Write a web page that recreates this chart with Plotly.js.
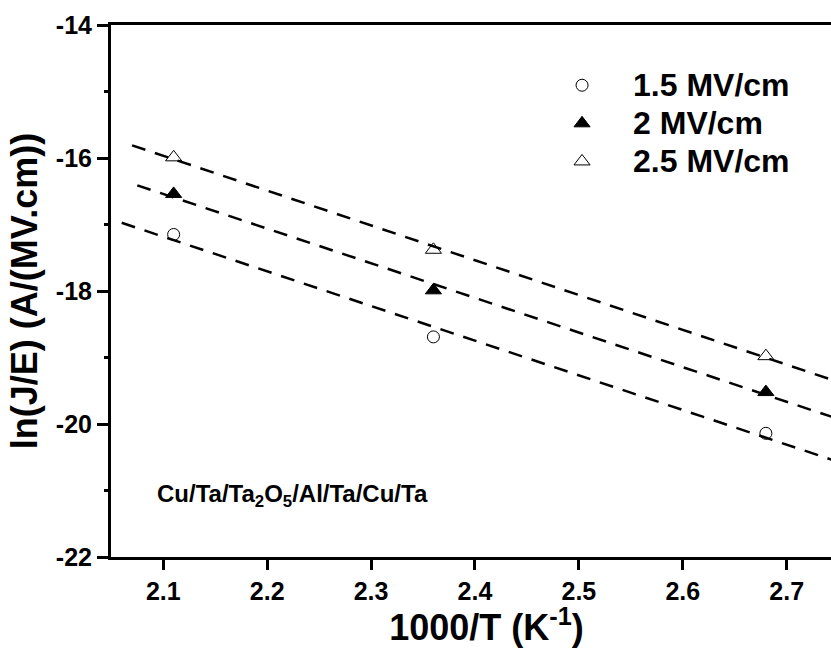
<!DOCTYPE html>
<html>
<head>
<meta charset="utf-8">
<script src="https://cdn.plot.ly/plotly-3.0.1.min.js"></script>
<style>html,body{margin:0;padding:0;background:#fff;overflow:hidden;width:831px;height:648px;}#chart{width:862px;height:648px;}</style>
</head>
<body>
<div id="chart"></div>
<script>
// Data
const invT = [2.11, 2.36, 2.68];
const y15 = [-17.15, -18.69, -20.14];
const y20 = [-16.54, -17.99, -19.52];
const y25 = [-15.99, -17.38, -18.98];
const seriesNames = ['1.5 MV/cm', '2 MV/cm', '2.5 MV/cm'];
const fitStart = [2.06, 2.075, 2.07];
const fitEnd = 2.78;
const xTicks = [2.1, 2.2, 2.3, 2.4, 2.5, 2.6, 2.7];
const yTicks = [-22, -20, -18, -16, -14];
const yMinorTicks = [-21, -19, -17, -15];

function fit(xs, ys) {
  const n = xs.length;
  const mx = xs.reduce((a, b) => a + b, 0) / n;
  const my = ys.reduce((a, b) => a + b, 0) / n;
  let sxx = 0, sxy = 0;
  for (let i = 0; i < n; i++) { sxx += (xs[i] - mx) ** 2; sxy += (xs[i] - mx) * (ys[i] - my); }
  const b = sxy / sxx;
  return x => my + b * (x - mx);
}

const FONT = '"Liberation Sans", Arial, sans-serif';
const ys = [y15, y20, y25];
const symbols = ['circle-open', 'triangle-up', 'triangle-up-open'];
const sizes = [12, 14, 14];
const traces = [];
ys.forEach((yy, i) => {
  const f = fit(invT, yy);
  traces.push({
    x: [fitStart[i], fitEnd], y: [f(fitStart[i]), f(fitEnd)],
    mode: 'lines', line: {color: '#000', width: 2.5, dash: '14px,10px'},
    showlegend: false, hoverinfo: 'skip'
  });
});
ys.forEach((yy, i) => {
  traces.push({
    x: invT, y: yy, name: '<span style="font-size:32px"><b>' + seriesNames[i] + '</b></span>', mode: 'markers',
    marker: {symbol: symbols[i], size: sizes[i], color: '#000', line: {color: '#000', width: 1}},
    cliponaxis: false
  });
});

// minor ticks on the y axis, drawn as short pixel-sized stubs at the axis
const minorTickShapes = yMinorTicks.map(v => ({
  type: 'line', xref: 'paper', yref: 'y', xsizemode: 'pixel', xanchor: 0,
  x0: -7, x1: 0, y0: v, y1: v, line: {color: '#000', width: 3}, layer: 'above'
}));

const layout = {
  width: 862, height: 648,
  margin: {l: 111, r: 0, t: 25, b: 91},
  paper_bgcolor: '#fff', plot_bgcolor: '#fff',
  font: {family: FONT, color: '#000'},
  showlegend: true,
  legend: {x: 0.5593, y: 0.932, xanchor: 'left', yanchor: 'top', bgcolor: 'rgba(0,0,0,0)',
           font: {family: FONT, size: 27, color: '#000'}, itemwidth: 92, tracegroupgap: 0},
  xaxis: {
    range: [2.0497, 2.7725], tickmode: 'array', tickvals: xTicks, ticktext: xTicks.map(v => v.toFixed(1)),
    showgrid: false, zeroline: false, showline: true, linecolor: '#000', linewidth: 3, mirror: true,
    ticks: 'outside', ticklen: 10, tickwidth: 3, tickcolor: '#000',
    tickfont: {family: FONT, size: 25, weight: 'bold', color: '#000'},
    title: {text: '<b>1000/T (K<sup>-1</sup>)</b>', font: {family: FONT, size: 36, color: '#000'}, standoff: 6}
  },
  yaxis: {
    range: [-22, -14], tickmode: 'array', tickvals: yTicks, ticktext: yTicks.map(v => String(v)),
    showgrid: false, zeroline: false, showline: true, linecolor: '#000', linewidth: 3, mirror: false,
    ticks: 'outside', ticklen: 11, tickwidth: 3, tickcolor: '#000',
    tickfont: {family: FONT, size: 25, weight: 'bold', color: '#000'},
    title: {text: '<b>ln(J/E) (A/(MV.cm))</b>', font: {family: FONT, size: 36, color: '#000'}, standoff: 8}
  },
  shapes: minorTickShapes,
  annotations: [{
    text: '<b>Cu/Ta/Ta<sub>2</sub>O<sub>5</sub>/Al/Ta/Cu/Ta</b>', xref: 'x', yref: 'y',
    x: 2.092, y: -21.08, xanchor: 'left', yanchor: 'middle', showarrow: false,
    font: {family: FONT, size: 24, color: '#000'}
  }]
};

Plotly.newPlot('chart', traces, layout, {staticPlot: true, displayModeBar: false});
</script>
</body>
</html>
